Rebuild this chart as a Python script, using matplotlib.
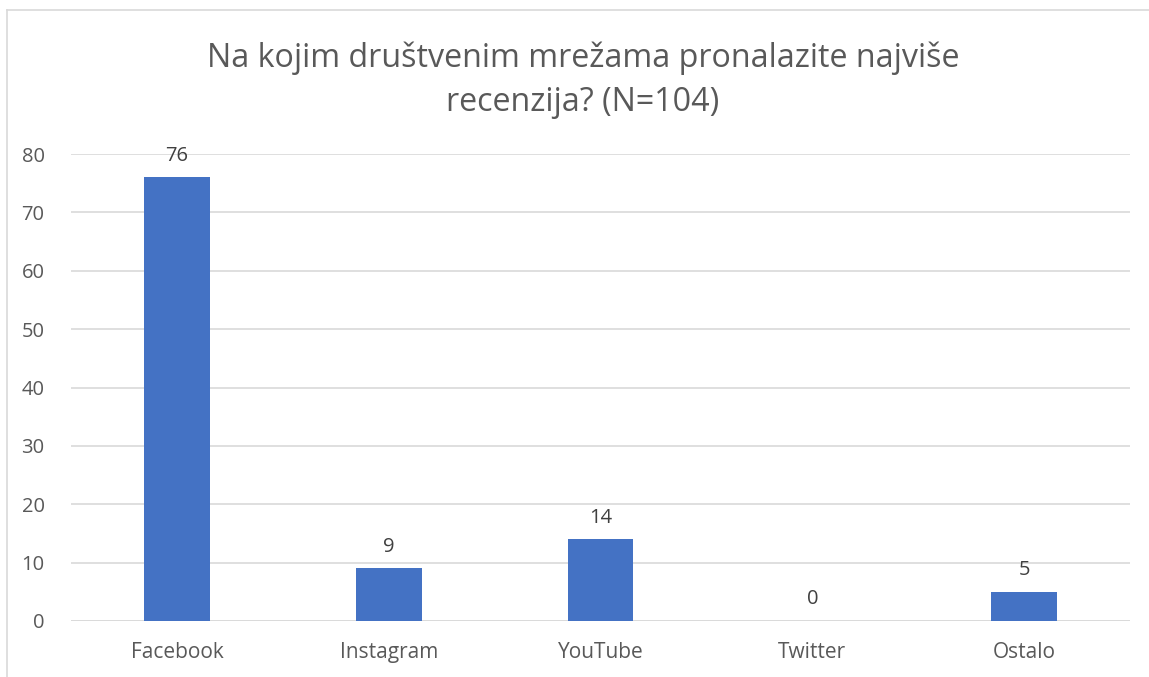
import numpy as np
import matplotlib.pyplot as plt
from matplotlib.lines import Line2D

plt.rcParams['font.family'] = ['Open Sans', 'DejaVu Sans']

# Podaci
kategorije = ['Facebook', 'Instagram', 'YouTube', 'Twitter', 'Ostalo']
vrijednosti = [76, 9, 14, 0, 5]
y_ticks = [0, 10, 20, 30, 40, 50, 60, 70, 80]

W, H = 1149, 677
fig = plt.figure(figsize=(W / 100, H / 100), dpi=100)
ax = fig.add_axes([71 / W, 1 - 621 / H, (1130 - 71) / W, (621 - 154) / H])

x = np.arange(len(kategorije))
bars = ax.bar(x, vrijednosti, width=0.31, color='#4472c4', zorder=3)

for xi, v in zip(x, vrijednosti):
    ax.text(xi, v + 2.0, str(v), ha='center', va='bottom', fontsize=14.5, color='#404040')

ax.set_xlim(-0.5, len(kategorije) - 0.5)
ax.set_ylim(0, 80)
ax.set_yticks(y_ticks)
ax.set_xticks(x)
ax.set_xticklabels(kategorije)
ax.yaxis.grid(True, color='#d9d9d9', linewidth=1.2, zorder=0)
ax.tick_params(axis='both', length=0, labelsize=14.5, labelcolor='#595959')
ax.tick_params(axis='x', labelsize=15)
ax.tick_params(axis='y', pad=19)
ax.tick_params(axis='x', pad=15)
for s in ax.spines.values():
    s.set_visible(False)
ax.axhline(0, color='#d9d9d9', linewidth=1.2, zorder=2)

fig.text(583 / W, 1 - 80 / H, 'Na kojim društvenim mrežama pronalazite najviše\nrecenzija? (N=104)',
         ha='center', va='center', fontsize=23.2, color='#595959', linespacing=1.45)

# okvir
fig.add_artist(Line2D([7 / W, 7 / W], [0, 1 - 10 / H], color='#d9d9d9', linewidth=1.2))
fig.add_artist(Line2D([7 / W, 1], [1 - 10 / H, 1 - 10 / H], color='#d9d9d9', linewidth=1.2))

fig.savefig('out.png', dpi=100)
